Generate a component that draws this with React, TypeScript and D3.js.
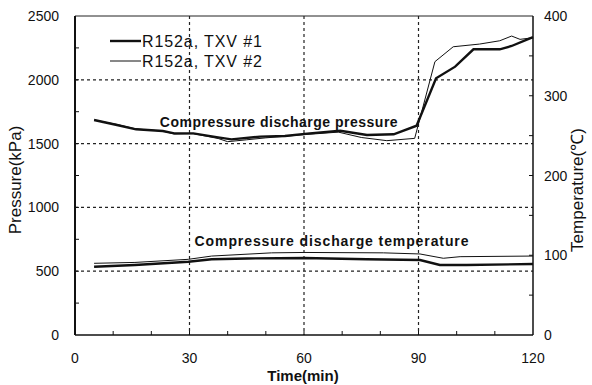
import React from "react";
import * as d3 from "d3";

const p1Time = [5, 11, 16, 23, 26, 31, 37.5, 41, 48.5, 55, 61.5, 69.5, 76.5, 83.5, 89.5, 94.6, 99.6, 104.4, 111.3, 114.4, 119.2, 120];
const p1Val = [1685, 1646, 1612, 1599, 1580, 1580, 1549, 1533, 1555, 1560, 1580, 1601, 1567, 1573, 1640, 2012, 2103, 2239, 2239, 2265, 2325, 2335];

const p2Time = [5, 11, 16, 23, 26, 31, 37.5, 40, 45, 50, 60, 69, 75, 81.7, 89, 94.3, 99.1, 106, 111.3, 114.4, 116.6, 120];
const p2Val = [1685, 1650, 1615, 1598, 1575, 1578, 1540, 1515, 1530, 1545, 1570, 1590, 1548, 1523, 1541, 2142, 2259, 2280, 2306, 2343, 2317, 2330];

const t1Time = [5, 15.7, 29.7, 35.8, 45, 60, 76.4, 90.4, 95.6, 102.6, 120];
const t1Val = [85.6, 87.8, 91.9, 94.9, 96, 96.5, 95, 94, 87.8, 87.8, 89];

const t2Time = [5, 15.7, 29.7, 35.8, 51.5, 60, 80.8, 90.4, 96.5, 100.9, 120];
const t2Val = [89.9, 91, 94.9, 99, 103, 103.5, 103, 101.6, 96.2, 98.2, 99];

const xTicks = [0, 30, 60, 90, 120];
const yLeftTicks = [0, 500, 1000, 1500, 2000, 2500];
const yRightTicks = [0, 100, 200, 300, 400];
const legendLabels = ["R152a, TXV #1", "R152a, TXV #2"];

const W = 592, H = 385;
const L = 75, R = 533, T = 16, B = 335;

export default function App() {
  const x = d3.scaleLinear().domain([0, 120]).range([L, R]);
  const yL = d3.scaleLinear().domain([0, 2500]).range([B, T]);
  const yR = d3.scaleLinear().domain([0, 400]).range([B, T]);
  const mk = (ts: number[], vs: number[], ys: d3.ScaleLinear<number, number>) =>
    d3.line<number>().x((_, i) => x(ts[i])).y((v) => ys(v)).curve(d3.curveLinear)(vs) || "";
  const tickFont = "'Liberation Sans Narrow', 'Liberation Sans', Arial, sans-serif";
  const boldFont = "'Liberation Sans', Arial, sans-serif";
  const gridX = [30, 60, 90];
  const gridY = [500, 1000, 1500, 2000];
  const minorX = d3.range(10, 120, 10);
  const minorYL = d3.range(250, 2500, 250);
  const minorYR = d3.range(50, 400, 50);
  return (
    <svg width={W} height={H} style={{ position: "absolute", left: 0, top: 0, background: "#fff" }}>
      <rect x={0} y={0} width={W} height={H} fill="#fff" />
      {gridX.map((g) => (
        <line key={"gx" + g} x1={x(g)} x2={x(g)} y1={T} y2={B} stroke="#222" strokeWidth={1.2} strokeDasharray="3,3" />
      ))}
      {gridY.map((g) => (
        <line key={"gy" + g} x1={L} x2={R} y1={yL(g)} y2={yL(g)} stroke="#222" strokeWidth={1.2} strokeDasharray="3,3" />
      ))}
      <line x1={L} x2={R} y1={T} y2={T} stroke="#222" strokeWidth={1} />
      <line x1={R} x2={R} y1={T} y2={B} stroke="#111" strokeWidth={1.5} />
      <line x1={L} x2={L} y1={T} y2={B} stroke="#111" strokeWidth={2} />
      <line x1={L} x2={R} y1={B} y2={B} stroke="#111" strokeWidth={1.5} />
      {minorX.map((m) => (
        <line key={"mx" + m} x1={x(m)} x2={x(m)} y1={B} y2={B - 4} stroke="#111" strokeWidth={1} />
      ))}
      {minorYL.map((m) => (
        <line key={"ml" + m} x1={L} x2={L + 4} y1={yL(m)} y2={yL(m)} stroke="#111" strokeWidth={1} />
      ))}
      {minorYR.map((m) => (
        <line key={"mr" + m} x1={R} x2={R - 4} y1={yR(m)} y2={yR(m)} stroke="#111" strokeWidth={1} />
      ))}
      {xTicks.map((t) => (
        <text key={"xt" + t} x={x(t)} y={363} textAnchor="middle" fontFamily={tickFont} fontSize={14} fill="#111">{t}</text>
      ))}
      {yLeftTicks.map((t) => (
        <text key={"yl" + t} x={59} y={yL(t) + 5} textAnchor="end" fontFamily={tickFont} fontSize={14} fill="#111">{t}</text>
      ))}
      {yRightTicks.map((t) => (
        <text key={"yr" + t} x={544} y={yR(t) + 5} textAnchor="start" fontFamily={tickFont} fontSize={14} fill="#111">{t}</text>
      ))}
      <path d={mk(p2Time, p2Val, yL)} fill="none" stroke="#111" strokeWidth={1} />
      <path d={mk(p1Time, p1Val, yL)} fill="none" stroke="#111" strokeWidth={2.4} />
      <path d={mk(t2Time, t2Val, yR)} fill="none" stroke="#111" strokeWidth={1} />
      <path d={mk(t1Time, t1Val, yR)} fill="none" stroke="#111" strokeWidth={2.4} />
      <line x1={110} x2={141} y1={41} y2={41} stroke="#111" strokeWidth={2.4} />
      <line x1={110} x2={141} y1={61} y2={61} stroke="#111" strokeWidth={1} />
      <text x={142} y={47} fontFamily={boldFont} fontSize={16} letterSpacing={0.9} fill="#111">{legendLabels[0]}</text>
      <text x={142} y={67} fontFamily={boldFont} fontSize={16} letterSpacing={0.9} fill="#111">{legendLabels[1]}</text>
      <text x={279} y={127} textAnchor="middle" fontFamily={boldFont} fontWeight="bold" fontSize={14} letterSpacing={0.5} fill="#111">Compressure discharge pressure</text>
      <text x={332} y={246} textAnchor="middle" fontFamily={boldFont} fontWeight="bold" fontSize={14} letterSpacing={0.9} fill="#111">Compressure discharge temperature</text>
      <text x={303} y={381} textAnchor="middle" fontFamily={boldFont} fontWeight="bold" fontSize={15} fill="#111">Time(min)</text>
      <text transform={`translate(21,180) rotate(-90)`} textAnchor="middle" fontFamily={boldFont} fontSize={17} fill="#111">Pressure(kPa)</text>
      <text transform={`translate(583,190) rotate(-90)`} textAnchor="middle" fontFamily={boldFont} fontSize={17} fill="#111">Temperature(℃)</text>
    </svg>
  );
}
